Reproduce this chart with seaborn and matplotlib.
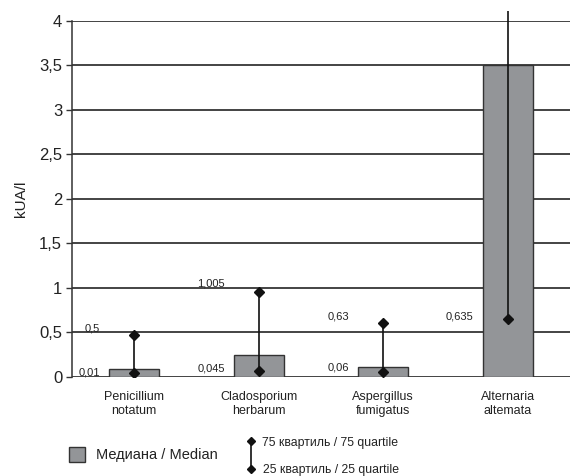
import matplotlib
matplotlib.use("Agg")
import matplotlib.pyplot as plt
import matplotlib.ticker as mticker
from matplotlib.lines import Line2D
from matplotlib.patches import Rectangle
import seaborn as sns
import pandas as pd

categories = ["Penicillium\nnotatum", "Cladosporium\nherbarum", "Aspergillus\nfumigatus", "Alternaria\naltemata"]
median = [0.09, 0.245, 0.115, 3.5]
q25 = [0.05, 0.065, 0.055, 0.655]
q75 = [0.475, 0.96, 0.605, 4.11]
upper_labels = ["0,5", "1,005", "0,63", "0,635"]
upper_label_vals = [0.5, 1.005, 0.63, 0.635]
lower_labels = ["0,01", "0,045", "0,06", ""]
lower_label_vals = [0.01, 0.045, 0.06, 0.0]
yticks = [0, 0.5, 1, 1.5, 2, 2.5, 3, 3.5, 4]

sns.set_theme(style="white")
plt.rcParams['font.family'] = ['Liberation Sans', 'DejaVu Sans']

fig = plt.figure(figsize=(5.71, 4.76), dpi=100)
ax = fig.add_axes([0.126, 0.208, 0.872, 0.748])

df = pd.DataFrame({"cat": categories, "median": median})
sns.barplot(data=df, x="cat", y="median", color="#939598", saturation=1,
            width=0.4, edgecolor="#333333", linewidth=1.0, ax=ax, zorder=3)

xs = list(range(len(categories)))
ax.vlines(xs, q25, q75, color="#111111", linewidth=1.2, zorder=4, clip_on=False)
ax.plot(xs, q25, linestyle="none", marker="D", markersize=5, color="#111111", zorder=5)
ax.plot(xs, q75, linestyle="none", marker="D", markersize=5, color="#111111", zorder=5)

for x, lab, v in zip(xs, upper_labels, upper_label_vals):
    ax.annotate(lab, (x, v), xytext=(-34, 4), textcoords="offset pixels",
                ha="right", va="center", fontsize=8, color="#222222")
for x, lab, v in zip(xs, lower_labels, lower_label_vals):
    if lab:
        ax.annotate(lab, (x, v), xytext=(-34, 4), textcoords="offset pixels",
                    ha="right", va="center", fontsize=8, color="#222222")

ax.set_ylim(0, 4)
ax.set_xlim(-0.5, 3.5)
ax.set_yticks(yticks)
ax.yaxis.set_major_formatter(mticker.FuncFormatter(lambda v, p: (f"{v:g}").replace(".", ",")))
ax.grid(axis="y", color="#111111", linewidth=1.1, zorder=0)
ax.set_axisbelow(True)
for s in ["top", "right", "bottom"]:
    ax.spines[s].set_visible(False)
ax.spines["left"].set_color("#333333")
ax.spines["left"].set_linewidth(1.1)
ax.tick_params(axis="y", left=True, length=4, width=1, color="#333333", labelsize=12, pad=3, labelcolor="#222222")
ax.tick_params(axis="x", bottom=False, labelsize=9, pad=4, labelcolor="#222222")
ax.set_xlabel("")
ax.set_ylabel("kUA/l", fontsize=11, color="#222222", labelpad=8)

# legend
W, H = 571, 476
fig.patches.append(Rectangle((69 / W, 1 - 462 / H), 16 / W, 15 / H, transform=fig.transFigure,
                             facecolor="#939598", edgecolor="#333333", linewidth=1.0))
fig.text(96 / W, 1 - 455 / H, "Медиана / Median", fontsize=10.5, va="center", ha="left", color="#222222")
fig.lines.append(Line2D([251 / W, 251 / W], [1 - 441 / H, 1 - 469 / H], transform=fig.transFigure,
                        color="#111111", linewidth=1.2))
fig.lines.append(Line2D([251 / W, 251 / W], [1 - 441 / H, 1 - 469 / H], transform=fig.transFigure,
                        linestyle="none", marker="D", markersize=4, color="#111111"))
fig.text(262 / W, 1 - 443 / H, "75 квартиль / 75 quartile", fontsize=8.8, va="center", ha="left", color="#222222")
fig.text(263 / W, 1 - 470 / H, "25 квартиль / 25 quartile", fontsize=8.8, va="center", ha="left", color="#222222")

fig.savefig("out.png", dpi=100)
